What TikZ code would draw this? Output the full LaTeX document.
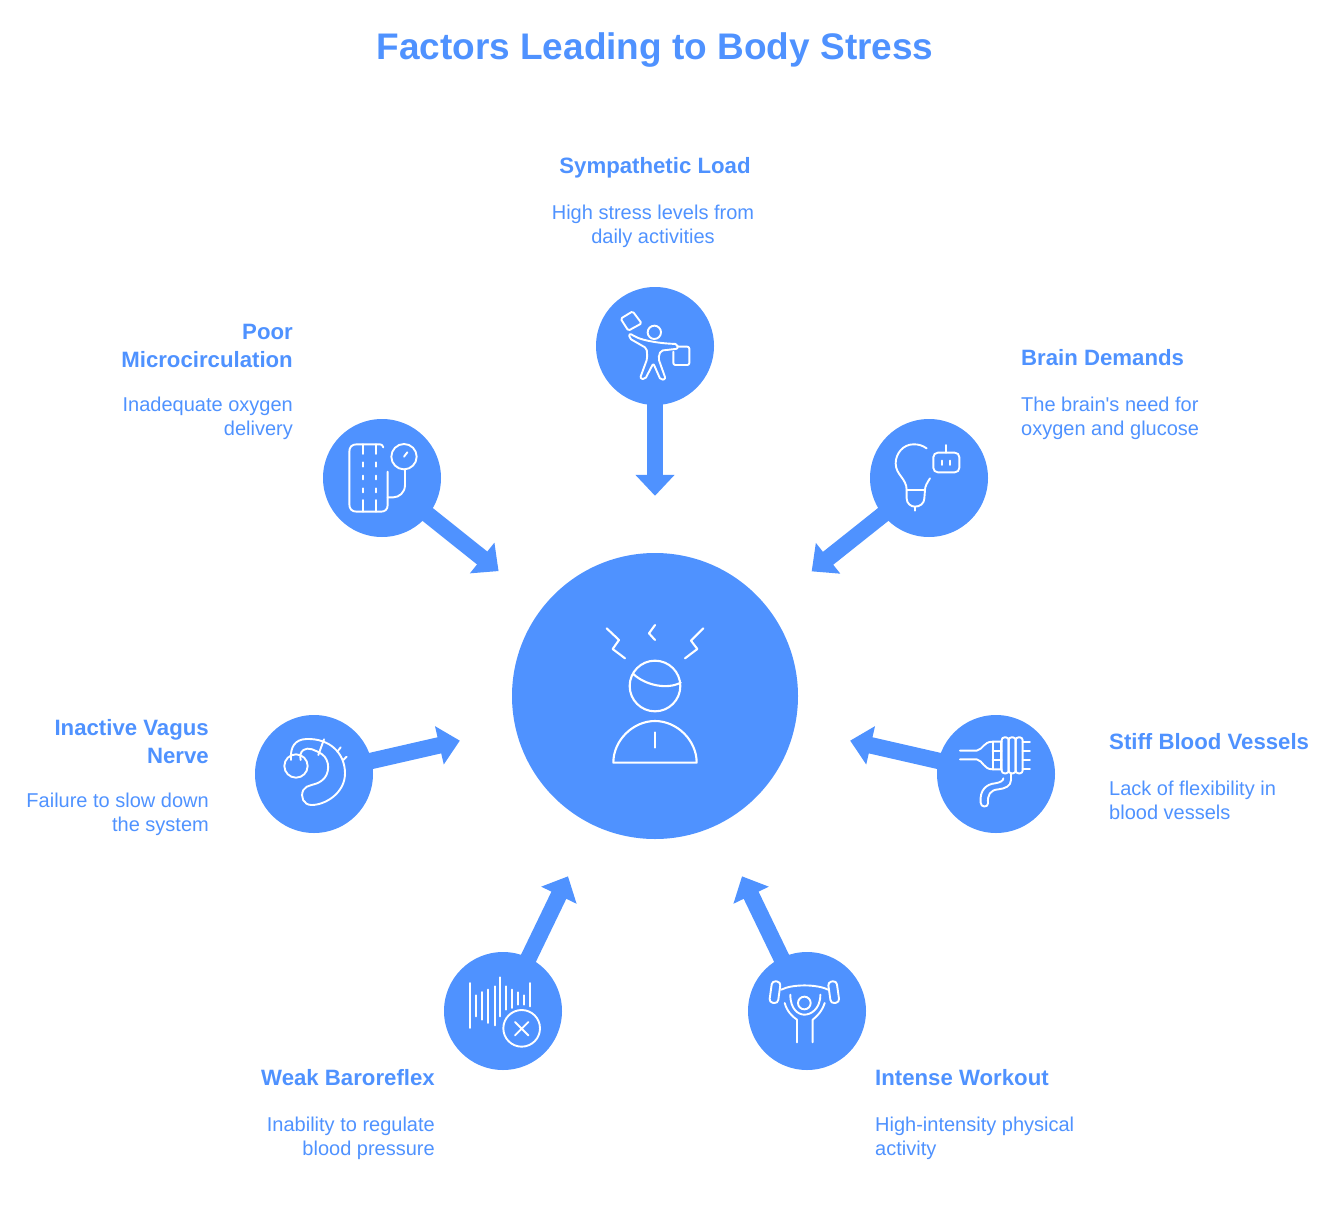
\documentclass[tikz,border=0pt]{standalone}
\usepackage{fontspec}
\setmainfont{Liberation Sans}
\usepackage{xcolor}
\usetikzlibrary{arrows.meta}
\definecolor{stressblue}{HTML}{4F92FF}
\tikzset{
  hubc/.style={circle, fill=stressblue, inner sep=0pt, minimum size=286pt},
  fact/.style={circle, fill=stressblue, inner sep=0pt, minimum size=118pt},
  flow/.style={-{Triangle[length=21pt,width=38pt]}, line width=16.5pt, draw=stressblue, shorten >=57pt, shorten <=-3pt},
  ttl/.style={font=\fontsize{37}{44}\selectfont\bfseries, text=stressblue, inner sep=0pt},
  hd/.style={font=\fontsize{22.2}{28}\selectfont\bfseries, text=stressblue, inner sep=0pt, align=#1},
  bd/.style={font=\fontsize{20}{24}\selectfont, text=stressblue, inner sep=0pt, align=#1},
  ic/.style={draw=white, line width=1.9pt, line join=round, line cap=round},
  icb/.style={draw=white, line width=2.1pt, line join=round, line cap=round},
}
\begin{document}
\begin{tikzpicture}[x=1pt,y=-1pt]
  \useasboundingbox (0,0) rectangle (1331,1218);
  \node[ttl] (title) at (655,50) {Factors Leading to Body Stress};

  % circles
  \node[hubc] (hub) at (655,696) {};
  \node[fact] (sym) at (655,346) {};
  \node[fact] (poor) at (382,478) {};
  \node[fact] (brain) at (929,478) {};
  \node[fact] (vagus) at (314,774) {};
  \node[fact] (stiff) at (996,774) {};
  \node[fact] (weak) at (503,1011) {};
  \node[fact] (work) at (807,1011) {};

  % arrows
  \draw[flow] (sym) -- (hub);
  \draw[flow] (poor) -- (hub);
  \draw[flow] (brain) -- (hub);
  \draw[flow] (vagus) -- (hub);
  \draw[flow] (stiff) -- (hub);
  \draw[flow] (weak) -- (hub);
  \draw[flow] (work) -- (hub);

  % labels
  \node[hd=center,anchor=base] (symhd) at (655,173) {Sympathetic Load};
  \node[bd=center,anchor=base] (symbd) at (653,243) {High stress levels from\\daily activities};
  \node[hd=right,anchor=base east] (poorhd) at (293,367) {Poor\\Microcirculation};
  \node[bd=right,anchor=base east] (poorbd) at (293,435) {Inadequate oxygen\\delivery};
  \node[hd=left,anchor=base west] (brainhd) at (1021,365) {Brain Demands};
  \node[bd=left,anchor=base west] (brainbd) at (1021,435) {The brain\textquotesingle s need for\\oxygen and glucose};
  \node[hd=right,anchor=base east] (vagushd) at (209,763) {Inactive Vagus\\Nerve};
  \node[bd=right,anchor=base east] (vagusbd) at (209,831) {Failure to slow down\\the system};
  \node[hd=left,anchor=base west] (stiffhd) at (1109,749) {Stiff Blood Vessels};
  \node[bd=left,anchor=base west] (stiffbd) at (1109,819) {Lack of flexibility in\\blood vessels};
  \node[hd=right,anchor=base east] (weakhd) at (435,1085) {Weak Baroreflex};
  \node[bd=right,anchor=base east] (weakbd) at (435,1155) {Inability to regulate\\blood pressure};
  \node[hd=left,anchor=base west] (workhd) at (875,1085) {Intense Workout};
  \node[bd=left,anchor=base west] (workbd) at (875,1155) {High-intensity physical\\activity};

  % hub icon
  \begin{scope}[shift={(590,610)},scale=1/3]
    \draw[icb] (195,228) circle[radius=76];
    \draw[icb] (130,192) .. controls (165,225) and (230,240) .. (272,218);
    \draw[icb] (70,458) -- (320,458) .. controls (320,390) and (260,333) .. (195,333) .. controls (130,333) and (70,390) .. (70,458) -- cycle;
    \draw[icb] (195,367) -- (195,413);
    \draw[icb] (50,55) -- (87,90) -- (68,117) -- (105,145);
    \draw[icb] (195,45) -- (177,70) -- (195,90);
    \draw[icb] (340,55) -- (303,92) -- (322,117) -- (285,145);
  \end{scope}

  % sympathetic icon
  \begin{scope}[shift={(590,280)},scale=1/3]
    \draw[ic] (193,157) circle[radius=20];
    \draw[ic,rounded corners=1.5pt] (92,116) -- (128,94) -- (155,130) -- (115,152) -- cycle;
    \draw[ic,rounded corners=2pt] (118,160) -- (140,172) .. controls (160,180) and (200,190) .. (262,192) -- (264,206) -- (212,212) -- (205,235) -- (227,297) -- (212,300) -- (190,250) -- (165,298) -- (150,295) -- (172,235) -- (170,205) -- (118,175) -- cycle;
    \draw[ic,rounded corners=2pt] (262,200) -- (298,200) -- (298,255) -- (250,255) -- (250,215);
  \end{scope}

  % microcirculation icon
  \begin{scope}[shift={(315,410)},scale=1/3]
    \draw[ic] (205,112) .. controls (203,106) and (200,103) .. (195,103) -- (125,103) .. controls (110,103) and (103,112) .. (103,125) -- (103,283) .. controls (103,296) and (110,305) .. (125,305) -- (198,305) .. controls (210,305) and (218,298) .. (218,285) -- (218,185);
    \draw[ic] (143,103) -- (143,132) (143,157) -- (143,170) (143,197) -- (143,208) (143,235) -- (143,247) (143,270) -- (143,305);
    \draw[ic] (183,103) -- (183,132) (183,157) -- (183,170) (183,197) -- (183,208) (183,235) -- (183,247) (183,270) -- (183,305);
    \draw[ic] (267,140) circle[radius=38];
    \draw[ic] (267,140) -- (277,127);
    \draw[ic] (270,178) -- (270,225) .. controls (270,248) and (252,262) .. (235,262) -- (218,262);
  \end{scope}

  % brain icon
  \begin{scope}[shift={(865,410)},scale=1/3]
    \draw[ic] (185,115) .. controls (170,105) and (160,103) .. (145,103) .. controls (115,103) and (92,130) .. (92,160) .. controls (92,195) and (125,205) .. (125,240) -- (125,265) .. controls (125,280) and (137,290) .. (150,290) .. controls (165,290) and (178,280) .. (178,265) -- (180,240) .. controls (180,230) and (185,220) .. (195,205);
    \draw[ic] (125,240) -- (180,240);
    \draw[ic] (150,290) -- (150,302);
    \draw[ic,rounded corners=4.5pt] (205,128) rectangle (283,187);
    \draw[ic] (243,105) -- (243,128);
    \draw[ic] (230,152) -- (230,165) (256,152) -- (256,165);
  \end{scope}

  % vagus icon
  \begin{scope}[shift={(250,710)},scale=1/3]
    \draw[ic] (138,168) circle[radius=35];
    \draw[ic] (123,150) .. controls (120,110) and (135,88) .. (170,87) .. controls (240,85) and (285,130) .. (285,190) .. controls (285,250) and (225,285) .. (185,285) .. controls (160,285) and (150,260) .. (160,240) .. controls (170,222) and (195,228) .. (215,212) .. controls (240,195) and (242,150) .. (215,132) .. controls (195,120) and (175,110) .. (160,120) .. controls (150,128) and (150,138) .. (152,150);
    \draw[ic] (222,88) -- (205,135);
    \draw[ic] (262,125) -- (272,112);
    \draw[ic] (280,150) -- (290,140);
  \end{scope}

  % stiff vessels icon
  \begin{scope}[shift={(930,710)},scale=1/3]
    \draw[ic] (90,122) -- (140,122) .. controls (160,118) and (160,95) .. (188,95) -- (215,95);
    \draw[ic] (90,148) -- (140,148) .. controls (160,152) and (160,178) .. (188,178) -- (215,178);
    \draw[ic] (188,95) -- (188,178) (212,95) -- (212,178);
    \draw[ic] (188,122) -- (215,122) (188,150) -- (215,150);
    \draw[ic] (278,95) -- (300,95) (278,122) -- (300,122) (278,150) -- (300,150) (278,178) -- (300,178);
    \draw[ic,rounded corners=2.8pt] (215,82) rectangle (236,190);
    \draw[ic,rounded corners=2.8pt] (236,82) rectangle (257,190);
    \draw[ic,rounded corners=2.8pt] (257,82) rectangle (278,190);
    \draw[ic] (243,190) -- (243,210) .. controls (243,228) and (225,236) .. (205,238) .. controls (180,240) and (172,255) .. (174,280) .. controls (174,293) and (152,293) .. (152,278) .. controls (148,240) and (170,222) .. (195,220) .. controls (210,218) and (220,212) .. (220,205);
  \end{scope}

  % baroreflex icon
  \begin{scope}[shift={(440,948)},scale=1/3]
    \draw[ic] (91,105) -- (91,240) (109,142) -- (109,205) (127,132) -- (127,215) (145,125) -- (145,225) (164,115) -- (164,232) (181,88) -- (181,205);
    \draw[ic] (199,115) -- (199,185) (217,125) -- (217,180) (235,133) -- (235,170) (253,142) -- (253,170) (271,105) -- (271,175);
    \draw[ic] (245,241) circle[radius=55];
    \draw[ic] (225,222) -- (265,262) (265,222) -- (225,262);
  \end{scope}

  % workout icon
  \begin{scope}[shift={(742,948)},scale=1/3]
    \draw[ic,rounded corners=3.5pt,rotate around={-8:(99,132)}] (86,100) rectangle (112,165);
    \draw[ic,rounded corners=3.5pt,rotate around={8:(275,132)}] (262,100) rectangle (288,165);
    \draw[ic] (118,125) .. controls (150,108) and (225,108) .. (258,125);
    \draw[ic] (187,165) circle[radius=19];
    \draw[ic] (145,140) .. controls (145,185) and (170,200) .. (187,200) .. controls (205,200) and (235,185) .. (235,140);
    \draw[ic] (128,165) .. controls (135,190) and (150,205) .. (165,215) -- (165,283);
    \draw[ic] (248,165) .. controls (240,190) and (225,205) .. (212,215) -- (212,283);
  \end{scope}
\end{tikzpicture}
\end{document}
